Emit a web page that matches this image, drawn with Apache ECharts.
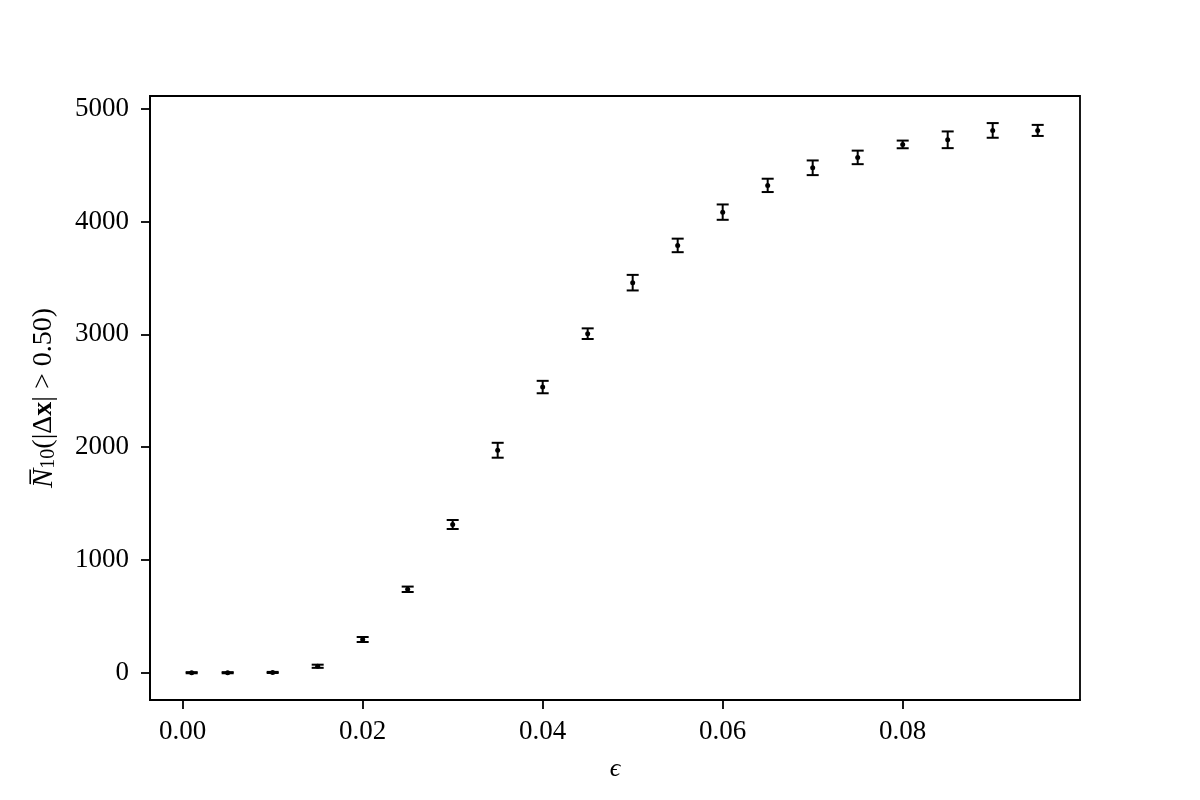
<!DOCTYPE html>
<html>
<head>
<meta charset="utf-8">
<script src="https://cdn.jsdelivr.net/npm/echarts@6/dist/echarts.min.js"></script>
<style>
  html, body { margin: 0; padding: 0; background: #fff; }
  #chart { width: 1200px; height: 800px; }
</style>
</head>
<body>
<div id="chart"></div>
<script>
var eps = [0.001, 0.005, 0.010, 0.015, 0.020, 0.025, 0.030, 0.035, 0.040, 0.045,
  0.050, 0.055, 0.060, 0.065, 0.070, 0.075, 0.080, 0.085, 0.090, 0.095]
var meanN = [2, 2, 4, 59, 296, 741, 1315, 1973, 2533, 3006,
  3458, 3788, 4083, 4320, 4476, 4568, 4683, 4724, 4807, 4807]
var errN = [5, 5, 5, 14, 22, 24, 40, 66, 55, 47,
  69, 60, 68, 59, 65, 60, 34, 74, 65, 49]
var xTicks = [0, 0.02, 0.04, 0.06, 0.08]
var yTicks = [0, 1000, 2000, 3000, 4000, 5000]

var font = 'Liberation Serif'

var points = eps.map(function (e, i) {
  return [e, meanN[i], errN[i]]
})

var chart = echarts.init(document.getElementById('chart'))

chart.setOption({
  animation: false,
  backgroundColor: '#fff',
  grid: {
    left: 150, right: 120, top: 96, bottom: 100,
    show: true, borderColor: '#000', borderWidth: 1.8
  },
  xAxis: {
    type: 'value',
    min: -0.00363,
    max: 0.0997,
    name: 'ϵ',
    nameLocation: 'middle',
    nameGap: 56,
    nameTextStyle: { fontFamily: font, fontSize: 26, fontStyle: 'italic', color: '#000' },
    axisLine: { show: true, onZero: false, lineStyle: { color: '#000', width: 1.8 } },
    axisTick: { show: true, length: 9, lineStyle: { color: '#000', width: 1.8 }, customValues: xTicks },
    axisLabel: {
      customValues: xTicks,
      margin: 18,
      fontFamily: font, fontSize: 27, color: '#000',
      formatter: function (v) { return v.toFixed(2) }
    },
    splitLine: { show: false }
  },
  yAxis: {
    type: 'value',
    min: -240,
    max: 5112,
    name: '{n|N̅}{sub|10}{t|(|Δ}{b|x}{t|| > 0.50)}',
    nameLocation: 'middle',
    nameRotate: 90,
    nameGap: 91,
    nameTextStyle: {
      fontFamily: font, fontSize: 28, color: '#000',
      rich: {
        n: { fontFamily: font, fontSize: 29, fontStyle: 'italic', color: '#000' },
        sub: { fontFamily: font, fontSize: 20, color: '#000', verticalAlign: 'bottom', padding: [10, 0, 0, 0] },
        t: { fontFamily: font, fontSize: 28, color: '#000' },
        b: { fontFamily: font, fontSize: 28, fontWeight: 'bold', color: '#000' }
      }
    },
    axisLine: { show: true, onZero: false, lineStyle: { color: '#000', width: 1.8 } },
    axisTick: { show: true, length: 9, lineStyle: { color: '#000', width: 1.8 }, customValues: yTicks },
    axisLabel: {
      customValues: yTicks,
      margin: 21,
      fontFamily: font, fontSize: 27, color: '#000',
      formatter: function (v) { return String(v) }
    },
    splitLine: { show: false }
  },
  series: [{
    type: 'custom',
    data: points,
    renderItem: function (params, api) {
      var x = api.value(0)
      var y = api.value(1)
      var e = api.value(2)
      var top = api.coord([x, y + e])
      var bot = api.coord([x, y - e])
      var mid = api.coord([x, y])
      var cap = 6
      var st = { stroke: '#000', lineWidth: 2 }
      return {
        type: 'group',
        children: [
          { type: 'line', shape: { x1: top[0], y1: top[1], x2: bot[0], y2: bot[1] }, style: st },
          { type: 'line', shape: { x1: top[0] - cap, y1: top[1], x2: top[0] + cap, y2: top[1] }, style: st },
          { type: 'line', shape: { x1: bot[0] - cap, y1: bot[1], x2: bot[0] + cap, y2: bot[1] }, style: st },
          { type: 'circle', shape: { cx: mid[0], cy: mid[1], r: 2.5 }, style: { fill: '#000' } }
        ]
      }
    }
  }]
})
</script>
</body>
</html>
